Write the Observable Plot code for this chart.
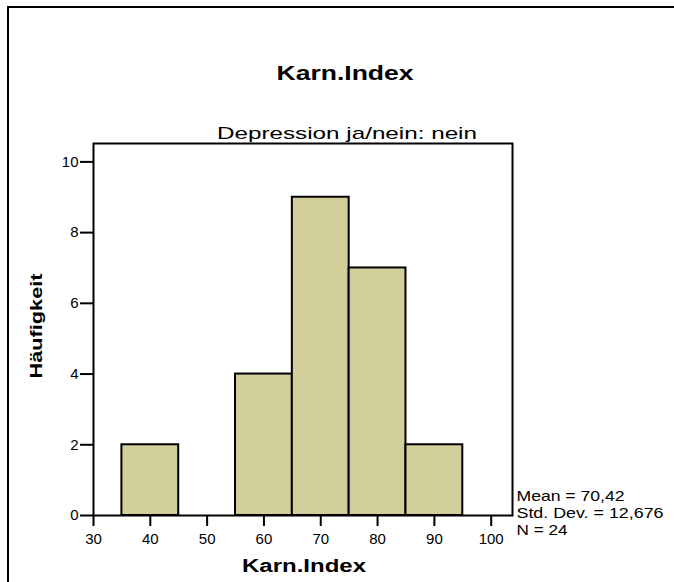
<!DOCTYPE html>
<html><head><meta charset="utf-8">
<script src="https://cdn.jsdelivr.net/npm/d3@7"></script>
<script src="https://cdn.jsdelivr.net/npm/@observablehq/plot@0.6"></script>
<style>
html,body{margin:0;padding:0;background:#fff;overflow:hidden;}
#wrap{position:relative;width:674px;height:582px;overflow:hidden;}
#border{position:absolute;left:7px;top:6px;width:667px;height:576px;border-left:2px solid #000;border-top:2px solid #000;box-sizing:border-box;pointer-events:none;}
</style></head><body><div id="wrap"><div id="chart"></div><div id="border"></div></div>
<script>
const binStarts = [35, 45, 55, 65, 75, 85];
const binEnds = [45, 55, 65, 75, 85, 95];
const counts = [2, 0, 4, 9, 7, 2];
const xTicks = [30, 40, 50, 60, 70, 80, 90, 100];
const yTicks = [0, 2, 4, 6, 8, 10];
const titleText = "Karn.Index";
const subtitleText = "Depression ja/nein: nein";
const xLabelText = "Karn.Index";
const yLabelText = "Häufigkeit";
const statsLines = ["Mean = 70,42", "Std. Dev. = 12,676", "N = 24"];

const bins = binStarts.map((x1, i) => ({x1, x2: binEnds[i], count: counts[i]})).filter(d => d.count > 0);
const font = "'Liberation Sans', Arial, Helvetica, sans-serif";

const plot = Plot.plot({
  width: 674, height: 582,
  marginLeft: 93, marginRight: 162, marginTop: 143, marginBottom: 67,
  style: {fontFamily: font, background: "white", color: "black"},
  x: {domain: [30, 103.75]},
  y: {domain: [0, 10.52]},
  marks: [
    Plot.rectY(bins, {x1: "x1", x2: "x2", y: "count", fill: "#d3cf9b", stroke: "black", strokeWidth: 2, inset: 0}),
    Plot.frame({stroke: "black", strokeWidth: 2}),
    Plot.axisX({ticks: xTicks, tickFormat: d => String(d), tickSize: 11, tickPadding: 7, fontSize: 15, strokeWidth: 2, label: null}),
    Plot.axisY({ticks: yTicks, tickFormat: d => String(d), tickSize: 13, tickPadding: 2, fontSize: 15, strokeWidth: 2, label: null}),
    Plot.text([titleText], {text: d => d, frameAnchor: "top", lineAnchor: "bottom", dx: 42, dy: -64, fontSize: 20, fontWeight: "bold", className: "t-title"}),
    Plot.text([subtitleText], {text: d => d, frameAnchor: "top", lineAnchor: "bottom", dx: 44, dy: -5, fontSize: 17, className: "t-sub"}),
    Plot.text([xLabelText], {text: d => d, frameAnchor: "bottom", lineAnchor: "bottom", dx: 1, dy: 56, fontSize: 17.5, fontWeight: "bold", className: "t-xlab"}),
    Plot.text([yLabelText], {text: d => d, frameAnchor: "left", textAnchor: "middle", lineAnchor: "bottom", rotate: -90, dx: -52, dy: -3.5, fontSize: 17, fontWeight: "bold", className: "t-ylab"}),
    Plot.text([statsLines[0]], {text: d => d, frameAnchor: "bottom-right", textAnchor: "start", lineAnchor: "bottom", dx: 4, dy: -15, fontSize: 15, className: "t-s0"}),
    Plot.text([statsLines[1]], {text: d => d, frameAnchor: "bottom-right", textAnchor: "start", lineAnchor: "bottom", dx: 4, dy: 2.7, fontSize: 15, className: "t-s1"}),
    Plot.text([statsLines[2]], {text: d => d, frameAnchor: "bottom-right", textAnchor: "start", lineAnchor: "bottom", dx: 4, dy: 19.3, fontSize: 15, className: "t-s2"})
  ]
});
document.getElementById("chart").appendChild(plot);
const svg = d3.select(plot);
const lengths = {"t-title": 137, "t-sub": 260, "t-xlab": 124, "t-ylab": 105, "t-s0": 108, "t-s1": 147, "t-s2": 51};
for (const [cls, len] of Object.entries(lengths)) {
  svg.selectAll("." + cls + " text").attr("textLength", len).attr("lengthAdjust", "spacingAndGlyphs");
}
</script></body></html>
